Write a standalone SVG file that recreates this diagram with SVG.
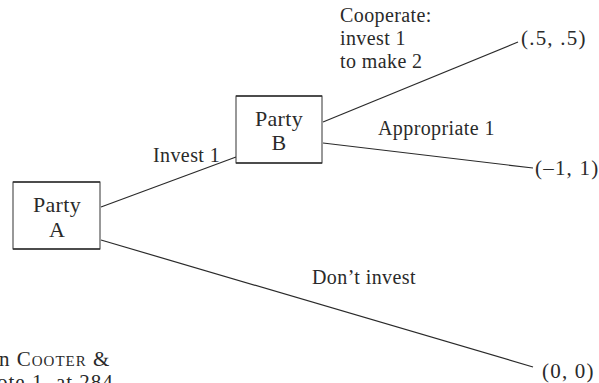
<svg xmlns="http://www.w3.org/2000/svg" width="599" height="383" viewBox="0 0 599 383">
<style>
text{font-family:"Liberation Serif","Times New Roman",serif;font-size:20px;letter-spacing:0.4px;fill:#2a2a2a}
.box{fill:#fff;stroke:#333;stroke-width:1}
.edge{stroke:#333;stroke-width:1.6}
.conn{stroke:#2a2a2a;stroke-width:1.2;fill:none}
.mid{text-anchor:middle;font-size:22px;letter-spacing:0.3px}
.pay{font-size:21px;letter-spacing:1.2px}
.cap{font-size:21px;letter-spacing:1px}
</style>
<rect width="599" height="383" fill="#fff"/>
<g id="connectors">
<line class="conn" x1="101" y1="207" x2="236" y2="157"/>
<line class="conn" x1="101" y1="240" x2="533" y2="367"/>
<line class="conn" x1="323" y1="122" x2="518" y2="42"/>
<line class="conn" x1="323" y1="143" x2="533" y2="168"/>
</g>
<g id="partyA">
<rect class="box" x="13" y="182" width="87" height="67"/>
<line class="edge" x1="13" y1="182" x2="100" y2="182"/>
<line class="edge" x1="13" y1="249" x2="100" y2="249"/>
<text class="mid" x="57" y="212">Party</text>
<text class="mid" x="57" y="237">A</text>
</g>
<g id="partyB">
<rect class="box" x="236" y="96" width="86" height="67"/>
<line class="edge" x1="236" y1="96" x2="322" y2="96"/>
<line class="edge" x1="236" y1="163" x2="322" y2="163"/>
<text class="mid" x="279" y="126">Party</text>
<text class="mid" x="279" y="150">B</text>
</g>
<g id="labels">
<text x="153" y="162">Invest 1</text>
<text x="340" y="22">Cooperate:</text>
<text x="340" y="45">invest 1</text>
<text x="340" y="68">to make 2</text>
<text x="378" y="135">Appropriate 1</text>
<text x="312" y="284">Don’t invest</text>
</g>
<g id="payoffs">
<text class="pay" x="521" y="45">(.5, .5)</text>
<text class="pay" x="535" y="175">(–1, 1)</text>
<text class="pay" x="542" y="378">(0, 0)</text>
</g>
<g id="caption">
<text class="cap" x="-1" y="366">n <tspan font-variant="small-caps">Cooter</tspan> &amp;</text>
<text class="cap" x="-3" y="389">ote 1, at 284</text>
</g>
</svg>
